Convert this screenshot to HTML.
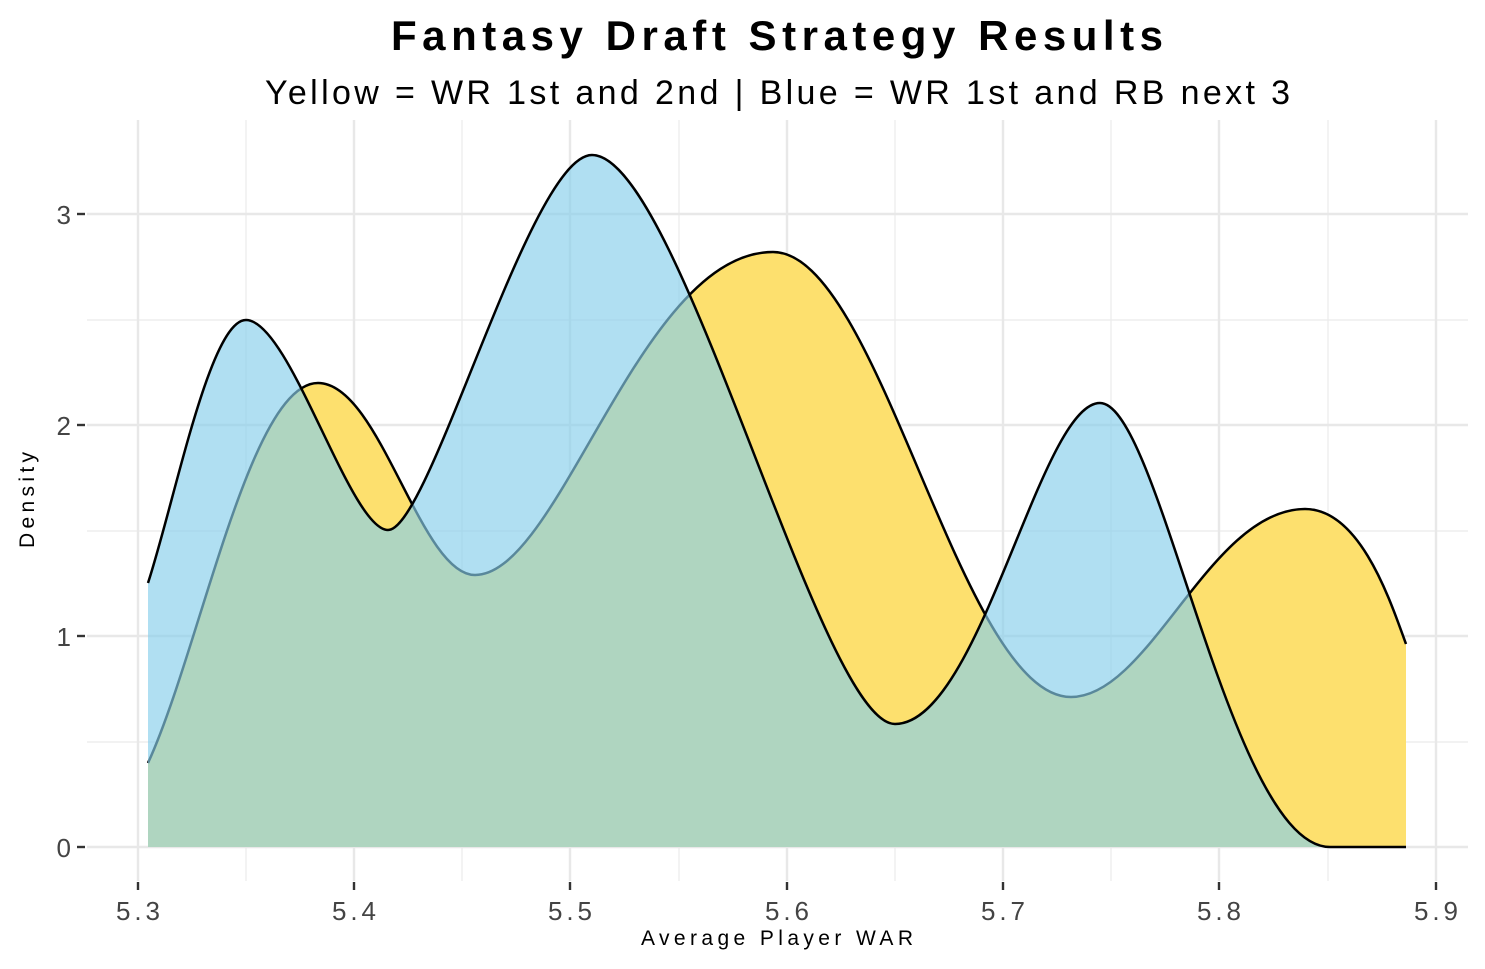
<!DOCTYPE html>
<html><head><meta charset="utf-8"><style>
body{margin:0;background:#fff;}
svg{display:block;font-family:"Liberation Sans",sans-serif;}
</style></head><body>
<svg width="1485" height="969" viewBox="0 0 1485 969">
<rect width="1485" height="969" fill="#fff"/>
<g stroke="#ebebeb" stroke-width="1.2">
<line x1="87" x2="1468" y1="742" y2="742"/><line x1="87" x2="1468" y1="531" y2="531"/><line x1="87" x2="1468" y1="320" y2="320"/>
<line x1="246" x2="246" y1="120" y2="881"/><line x1="462" x2="462" y1="120" y2="881"/><line x1="679" x2="679" y1="120" y2="881"/><line x1="895" x2="895" y1="120" y2="881"/><line x1="1111" x2="1111" y1="120" y2="881"/><line x1="1328" x2="1328" y1="120" y2="881"/>
</g>
<g stroke="#e8e8e8" stroke-width="2.4">
<line x1="87" x2="1468" y1="847" y2="847"/><line x1="87" x2="1468" y1="636" y2="636"/><line x1="87" x2="1468" y1="425" y2="425"/><line x1="87" x2="1468" y1="214" y2="214"/>
<line x1="138" x2="138" y1="120" y2="881"/><line x1="354" x2="354" y1="120" y2="881"/><line x1="570" x2="570" y1="120" y2="881"/><line x1="787" x2="787" y1="120" y2="881"/><line x1="1003" x2="1003" y1="120" y2="881"/><line x1="1219" x2="1219" y1="120" y2="881"/><line x1="1436" x2="1436" y1="120" y2="881"/>
</g>
<path d="M148,763 C200,650 250,383 318,383 C380,383 420,575 475,575 C560,575 640,252 773,252 C880,252 960,697 1071,697 C1150,697 1210,509 1305,509 C1360,509 1390,600 1406,644 L1406,847 L148,847 Z" fill="#fde06e"/>
<path d="M148,763 C200,650 250,383 318,383 C380,383 420,575 475,575 C560,575 640,252 773,252 C880,252 960,697 1071,697 C1150,697 1210,509 1305,509 C1360,509 1390,600 1406,644" fill="none" stroke="#000" stroke-width="2.5"/>
<path d="M148,583 C175,500 210,320 246,320 C290,320 350,530 388,530 C430,530 530,155 592,155 C680,155 820,724 895,724 C980,724 1040,403 1100,403 C1160,403 1230,847 1330,847 L1406,847 L148,847 Z" fill="#87ceeb" fill-opacity="0.66"/>
<path d="M148,583 C175,500 210,320 246,320 C290,320 350,530 388,530 C430,530 530,155 592,155 C680,155 820,724 895,724 C980,724 1040,403 1100,403 C1160,403 1230,847 1330,847 L1406,847" fill="none" stroke="#000" stroke-width="2.5"/>
<g stroke="#333" stroke-width="2.4">
<line x1="77" x2="85" y1="847" y2="847"/><line x1="77" x2="85" y1="636" y2="636"/><line x1="77" x2="85" y1="425" y2="425"/><line x1="77" x2="85" y1="214" y2="214"/>
<line x1="138" x2="138" y1="882" y2="890"/><line x1="354" x2="354" y1="882" y2="890"/><line x1="570" x2="570" y1="882" y2="890"/><line x1="787" x2="787" y1="882" y2="890"/><line x1="1003" x2="1003" y1="882" y2="890"/><line x1="1219" x2="1219" y1="882" y2="890"/><line x1="1436" x2="1436" y1="882" y2="890"/>
</g>
<g fill="#444" font-size="26" text-anchor="end">
<text x="71" y="857">0</text><text x="71" y="646">1</text><text x="71" y="435">2</text><text x="71" y="224">3</text>
</g>
<g fill="#444" font-size="26" text-anchor="middle">
<text x="138" y="920" textLength="44">5.3</text><text x="354" y="920" textLength="44">5.4</text><text x="570" y="920" textLength="44">5.5</text><text x="787" y="920" textLength="44">5.6</text><text x="1003" y="920" textLength="44">5.7</text><text x="1219" y="920" textLength="44">5.8</text><text x="1436" y="920" textLength="44">5.9</text>
</g>
<text x="641" y="945" font-size="21" textLength="272" fill="#000">Average Player WAR</text>
<text transform="translate(34,548) rotate(-90)" font-size="21" textLength="96" fill="#000">Density</text>
<text x="391" y="50" font-size="42" font-weight="bold" textLength="772" fill="#000">Fantasy Draft Strategy Results</text>
<text x="265" y="104" font-size="34" textLength="1025" fill="#000">Yellow = WR 1st and 2nd | Blue = WR 1st and RB next 3</text>
</svg>
</body></html>
